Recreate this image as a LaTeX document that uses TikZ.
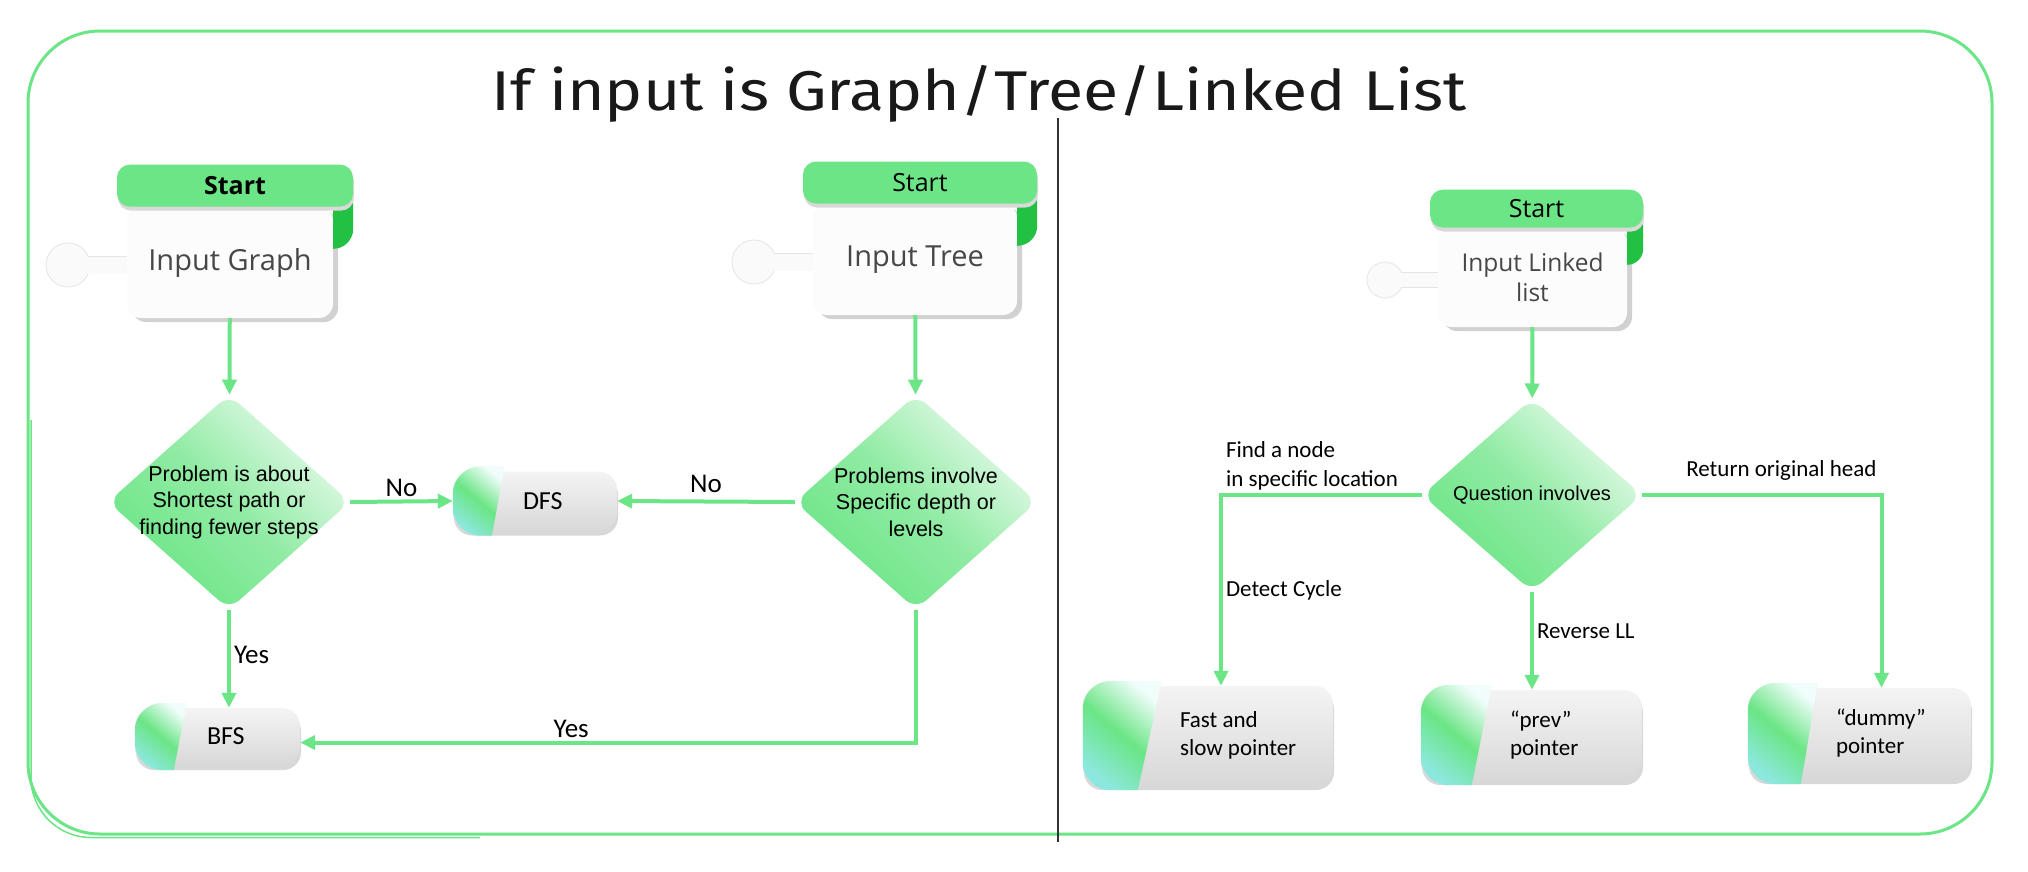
\documentclass[tikz,border=0pt]{standalone}
\usepackage{fontspec}
\setmainfont{Open Sans}
\newfontfamily\calfont{Carlito}
\newfontfamily\arfont{Liberation Sans}
\newfontfamily\handfont{Fira Sans}
\usetikzlibrary{arrows.meta,positioning,shapes.geometric,shadows,backgrounds}

\definecolor{leaf}{HTML}{6BE585}
\definecolor{leafdark}{HTML}{22C043}
\definecolor{mint}{HTML}{E8FAEC}
\definecolor{aqua}{HTML}{8CE8DE}
\definecolor{frost}{HTML}{F0FDFB}
\definecolor{greylt}{HTML}{F4F4F4}
\definecolor{greydk}{HTML}{D8D8D8}

% green cap on the left end of a process box: node, top width, bottom width
\newcommand{\capleft}[3]{%
  \shade[capshade] ([xshift=#2, yshift=5pt]#1.north west)
    -- ([xshift=#3, yshift=-5pt]#1.south west)
    -- ([xshift=28pt, yshift=-5pt]#1.south west)
    to[out=180, in=-90] ([yshift=23pt]#1.south west)
    -- ([yshift=-23pt]#1.north west)
    to[out=90, in=180] ([xshift=28pt, yshift=5pt]#1.north west) -- cycle;}
% dark green fold under a start header: node, width, height
\newcommand{\tabon}[3]{%
  \fill[leafdark] ([yshift=10pt]#1.north east) -- ([xshift=#2, yshift=10pt]#1.north east)
    -- ([xshift=#2, yshift=#2-#3]#1.north east) to[out=-90, in=0] ([yshift=-#3]#1.north east) -- cycle;}

\begin{document}
\begin{tikzpicture}[x=1pt, y=-1pt, >={Triangle[length=15pt, width=14pt]},
  flow/.style={->, draw=leaf, line width=4pt},
  frame/.style={draw=leaf, line width=3pt},
  startbody/.style={rectangle, rounded corners=14pt, fill=black!1, text=black!72, align=center, inner sep=0pt,
    drop shadow={shadow xshift=5pt, shadow yshift=-4pt, fill=black!18, opacity=1}},
  head/.style={rectangle, rounded corners=13pt, fill=leaf, inner sep=0pt, font=\fontsize{25}{30}\selectfont,
    drop shadow={shadow xshift=1pt, shadow yshift=-4pt, fill=black!15, opacity=1}},
  plug/.style={circle, draw=black!10, fill=black!2, line width=0.8pt, inner sep=0pt},
  neck/.style={draw=black!10, double=black!2, double distance=17pt, line width=0.8pt},
  decision/.style={diamond, rounded corners=14pt, inner sep=0pt, top color=mint, bottom color=leaf,
    middle color=leaf!70!mint, shading angle=-45},
  dtext/.style={font=\arfont\fontsize{21.5}{26.5}\selectfont, align=center, inner sep=0pt},
  proc/.style={rectangle, rounded corners=18pt, top color=greylt, bottom color=greydk, inner sep=0pt,
    drop shadow={shadow xshift=1pt, shadow yshift=-5pt, fill=black!30, opacity=.5}},
  capshade/.style={top color=frost, bottom color=aqua, middle color=leaf, shading angle=-40},
  boxtext/.style={font=\calfont\fontsize{23}{28}\selectfont, align=left, inner sep=0pt},
  lab/.style={font=\calfont\fontsize{27}{32}\selectfont, inner sep=3pt},
  note/.style={font=\calfont\fontsize{23}{29}\selectfont, align=left, inner sep=3pt}]

\useasboundingbox (0,0) rectangle (2028,871);

\node[font=\handfont\fontsize{56}{60}\selectfont, anchor=base, xscale=1.15, text=black!90] (title) at (979,110) {If input is Graph/Tree/Linked List};

% frame and divider
\draw[frame, rounded corners=72pt] (28,31) rectangle (1992,834);
\draw[frame, line width=1.5pt, rounded corners=60pt] (31,420) -- (31,837.5) -- (480,837.5);
\coordinate (divtop) at (1058,118);
\coordinate (divbot) at (1058,842);
\draw[line width=1.3pt, black!80] (divtop) -- (divbot);

% graph
\node[startbody, minimum width=206pt, minimum height=111pt, font=\fontsize{29}{34}\selectfont] (graph) at (230,262.5) {Input Graph};
\tabon{graph}{20pt}{42pt}
\node[head, minimum width=236pt, minimum height=42pt, font=\bfseries\fontsize{25}{30}\selectfont,
  above right=0pt and -10pt of graph.north west] (graphhead) {Start};
\node[decision, minimum width=242pt, minimum height=215pt,
  label={[dtext]center:Problem is about\\Shortest path or\\finding fewer steps}] (isshort) at (229,502) {};

\node[proc, minimum width=164pt, minimum height=59pt] (dfs) at (535,501) {};
\capleft{dfs}{52pt}{39pt}
\node[boxtext, font=\calfont\fontsize{26}{30}\selectfont, right=70pt of dfs.west] (dfstext) {DFS};
\node[proc, minimum width=165pt, minimum height=57pt] (bfs) at (217.5,736.5) {};
\capleft{bfs}{52pt}{39pt}
\node[boxtext, font=\calfont\fontsize{26}{30}\selectfont, right=72pt of bfs.west] (bfstext) {BFS};

% tree
\node[startbody, minimum width=204pt, minimum height=111pt, font=\fontsize{29}{34}\selectfont] (tree) at (915,259.5) {Input Tree};
\tabon{tree}{20pt}{42pt}
\node[head, minimum width=234pt, minimum height=42pt, above right=0pt and -10pt of tree.north west] (treehead) {Start};
\node[decision, minimum width=242pt, minimum height=215pt,
  label={[dtext]center:Problems involve\\Specific depth or\\levels}] (isdepth) at (916,502) {};

\draw[flow] (graph) -- (isshort);
\draw[flow] (tree) -- (isdepth);
\draw[flow] (isshort.east) -- node[lab, above] {No} (dfs.west);
\draw[flow] (isdepth.west) -- node[lab, above=4pt] {No} (dfs.east);
\draw[flow] (isshort.south) -- node[lab, right, pos=0.46] {Yes} (isshort.south |- bfs.north);
\draw[flow] (isdepth.south) |- node[lab, above, pos=0.78] {Yes} ([yshift=-6pt]bfs.east);

% linked list
\node[startbody, minimum width=189pt, minimum height=99pt, font=\fontsize{24.5}{30}\selectfont] (list) at (1532.5,277.5) {Input Linked\\list};
\tabon{list}{16pt}{37pt}
\node[head, minimum width=213pt, minimum height=38pt, above right=0pt and -8pt of list.north west] (listhead) {Start};
\node[decision, minimum width=220pt, minimum height=193pt,
  label={[dtext, font=\arfont\fontsize{20}{24}\selectfont]center:Question involves}] (asks) at (1532,495) {};

\node[proc, minimum width=250pt, minimum height=99pt] (fast) at (1208,735.5) {};
\capleft{fast}{79pt}{55pt}
\node[boxtext, right=97pt of fast.west] (fasttext) {Fast and\\slow pointer};
\node[proc, minimum width=221pt, minimum height=90pt] (prev) at (1531.5,735) {};
\capleft{prev}{71pt}{51pt}
\node[boxtext, right=89pt of prev.west] (prevtext) {“prev”\\pointer};
\node[proc, minimum width=223pt, minimum height=91pt] (dummy) at (1859.5,733.5) {};
\capleft{dummy}{70pt}{53pt}
\node[boxtext, right=88pt of dummy.west] (dummytext) {“dummy”\\pointer};

\draw[flow] (list) -- (asks);
\draw[flow] (asks.west) -| node[note, above right, pos=0.5] {Find a node\\in specific location}
  node[note, right, pos=0.75] {Detect Cycle} ([xshift=13pt]fast.north);
\draw[flow] (asks.south) -- node[note, right, pos=0.4] {Reverse LL} (asks.south |- prev.north);
\draw[flow] (asks.east) -| node[note, above left, pos=0.5, yshift=10pt] {Return original head} ([xshift=22pt]dummy.north);

\begin{scope}[on background layer]
  \fill[white] (0,0) rectangle (2028,871);
  \node[plug, minimum size=44pt] (graphplug) at (68,265) {};
  \draw[neck] ([xshift=-2pt]graphplug.east) -- (graphplug.east -| graph.center);
  \node[plug, minimum size=44pt] (treeplug) at (754,262) {};
  \draw[neck] ([xshift=-2pt]treeplug.east) -- (treeplug.east -| tree.center);
  \node[plug, minimum size=36pt] (listplug) at (1385,280) {};
  \draw[neck, double distance=14pt] ([xshift=-2pt]listplug.east) -- (listplug.east -| list.center);
\end{scope}
\end{tikzpicture}
\end{document}
